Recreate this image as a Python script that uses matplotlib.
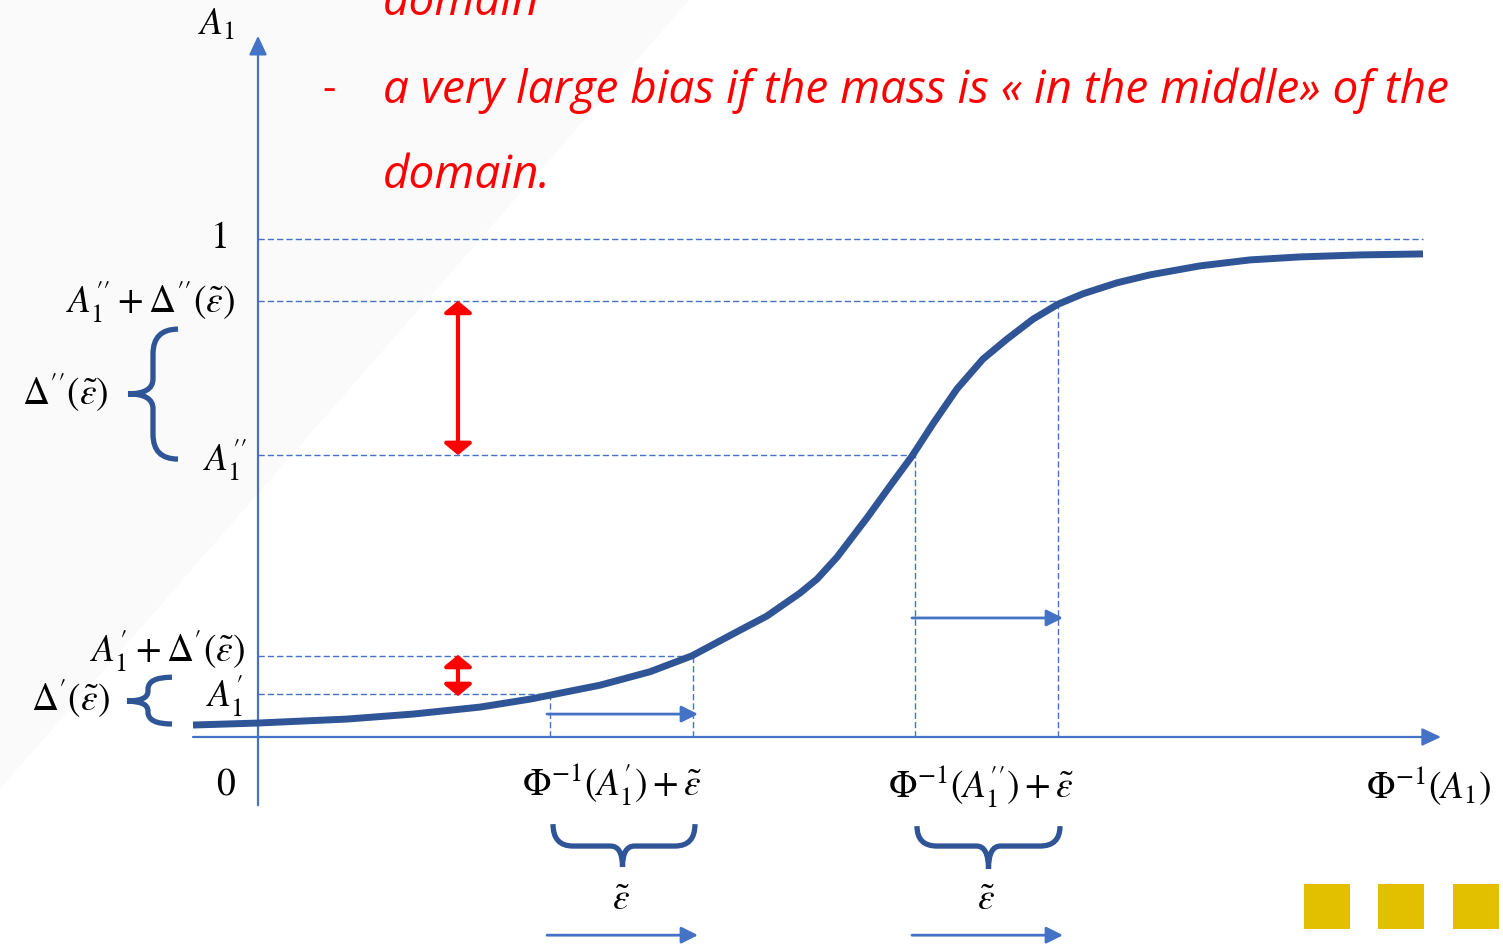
import numpy as np
import matplotlib.pyplot as plt
from matplotlib.path import Path
from matplotlib.patches import PathPatch, Rectangle, Polygon

plt.rcParams['mathtext.fontset'] = 'stix'

AXIS_BLUE = '#4472C4'
CURVE_BLUE = '#2F5597'
RED = '#FF0000'

# S-shaped mapping A1 = Phi(x)
curve_x = [-0.65, 0.00, 0.89, 1.55, 2.22, 2.72, 2.92, 3.42, 3.92, 4.34, 4.75,
           5.09, 5.42, 5.59, 5.79, 6.09, 6.32, 6.54, 6.75, 6.99, 7.25, 7.49,
           7.75, 8.00, 8.25, 8.59, 8.92, 9.42, 9.92, 10.42, 11.02, 11.65]
curve_y = [0.024, 0.028, 0.036, 0.046, 0.060, 0.076, 0.084, 0.104, 0.131, 0.163, 0.207,
           0.243, 0.289, 0.317, 0.361, 0.440, 0.504, 0.564, 0.629, 0.699, 0.759, 0.799,
           0.839, 0.869, 0.890, 0.912, 0.928, 0.946, 0.958, 0.964, 0.968, 0.970]

# levels on the A1 axis
a1_lo = 0.086      # A1'
a1_lo_up = 0.163   # A1' + Delta'(eps)
a1_hi = 0.566      # A1''
a1_hi_up = 0.876   # A1'' + Delta''(eps)
a1_top = 1.0

# positions on the Phi^-1 axis and the shift eps
x_lo = 2.92
x_hi = 6.57
eps = 1.43

fig = plt.figure(figsize=(15.03, 9.45), dpi=100)
ax = fig.add_axes([0, 0, 1, 1])
ax.set_xlim(-2.58, 12.45)
ax.set_ylim(-0.4157, 1.4819)
ax.axis('off')

# faint background wedge
ax.add_patch(Polygon([(-2.58, 1.4819), (4.32, 1.4819), (-2.58, -0.104)],
                     closed=True, facecolor='#FAFAFA', edgecolor='none', zorder=0))

dash = dict(color=AXIS_BLUE, lw=1.0, linestyle=(0, (4.5, 2.2)), zorder=2)
# horizontal guides from the A1 axis to the curve
for lev, xe in [(a1_lo, x_lo), (a1_lo_up, x_lo + eps), (a1_hi, x_hi),
                (a1_hi_up, x_hi + eps), (a1_top, curve_x[-1])]:
    ax.plot([0, xe], [lev, lev], **dash)
# vertical guides from the curve down to the x axis
for xv, lev in [(x_lo, a1_lo), (x_lo + eps, a1_lo_up), (x_hi, a1_hi), (x_hi + eps, a1_hi_up)]:
    ax.plot([xv, xv], [0, lev], **dash)

# axes with arrow heads
axis_arrow = dict(arrowstyle='-|>,head_length=1.15,head_width=0.54', mutation_scale=10,
                  color=AXIS_BLUE, lw=1.6, shrinkA=0, shrinkB=0)
ax.annotate('', xy=(0, 1.408), xytext=(0, -0.137), arrowprops=axis_arrow, zorder=3)
ax.annotate('', xy=(11.83, 0), xytext=(-0.65, 0), arrowprops=axis_arrow, zorder=3)

# the curve
ax.plot(curve_x, curve_y, color=CURVE_BLUE, lw=5.0, solid_capstyle='butt',
        solid_joinstyle='round', zorder=4)

# shift arrows of length eps
shift = dict(arrowstyle='-|>,head_length=1.0,head_width=0.5', mutation_scale=10,
             color=AXIS_BLUE, lw=2.0, shrinkA=0, shrinkB=0)
for x0, yy in [(x_lo, 0.046), (x_hi, 0.239), (x_lo, -0.398), (x_hi, -0.398)]:
    ax.annotate('', xy=(x0 + eps + 0.05, yy), xytext=(x0 - 0.03, yy), arrowprops=shift, zorder=3)

# red double arrows for the vertical gaps
gap = dict(arrowstyle='<|-|>,head_length=0.7,head_width=0.85', mutation_scale=10,
           color=RED, lw=3.0, shrinkA=0, shrinkB=0)
ax.annotate('', xy=(2.0, a1_hi_up), xytext=(2.0, a1_hi), arrowprops=gap, zorder=5)
ax.annotate('', xy=(2.0, a1_lo_up + 0.002), xytext=(2.0, a1_lo - 0.004), arrowprops=gap, zorder=5)


def left_brace(x_end, x_mid, x_tip, y_top, y_tip, y_bot, r, r2):
    verts = [(x_end, y_top), (x_mid, y_top), (x_mid, y_top - r),
             (x_mid, y_tip + r2),
             (x_mid, y_tip), (x_tip, y_tip),
             (x_mid, y_tip), (x_mid, y_tip - r2),
             (x_mid, y_bot + r),
             (x_mid, y_bot), (x_end, y_bot)]
    codes = [Path.MOVETO, Path.CURVE3, Path.CURVE3, Path.LINETO,
             Path.CURVE3, Path.CURVE3, Path.CURVE3, Path.CURVE3,
             Path.LINETO, Path.CURVE3, Path.CURVE3]
    ax.add_patch(PathPatch(Path(verts, codes), fill=False, edgecolor=CURVE_BLUE,
                           lw=3.8, capstyle='butt', zorder=4))


def bottom_brace(x_left, x_tip, x_right, y_end, y_mid, y_tip, r, r2):
    verts = [(x_left, y_end), (x_left, y_mid), (x_left + r, y_mid),
             (x_tip - r2, y_mid),
             (x_tip, y_mid), (x_tip, y_tip),
             (x_tip, y_mid), (x_tip + r2, y_mid),
             (x_right - r, y_mid),
             (x_right, y_mid), (x_right, y_end)]
    codes = [Path.MOVETO, Path.CURVE3, Path.CURVE3, Path.LINETO,
             Path.CURVE3, Path.CURVE3, Path.CURVE3, Path.CURVE3,
             Path.LINETO, Path.CURVE3, Path.CURVE3]
    ax.add_patch(PathPatch(Path(verts, codes), fill=False, edgecolor=CURVE_BLUE,
                           lw=3.8, capstyle='butt', zorder=4))


left_brace(-0.80, -1.05, -1.30, 0.819, 0.689, 0.558, 0.050, 0.030)
left_brace(-0.86, -1.10, -1.31, 0.120, 0.072, 0.026, 0.024, 0.020)
bottom_brace(x_lo + 0.03, x_lo + eps / 2 + 0.01, x_lo + eps + 0.02, -0.175, -0.219, -0.261, 0.20, 0.12)
bottom_brace(x_hi + 0.02, x_hi + eps / 2 + 0.02, x_hi + eps + 0.02, -0.179, -0.219, -0.265, 0.20, 0.12)

# math labels
fs = 27
lab = dict(fontsize=fs, color='black', va='center', zorder=6)
ax.text(-0.41, 1.432, r'$A_1$', ha='center', **lab)
ax.text(-0.31, 1.004, r'$1$', ha='right', **lab)
ax.text(-0.23, 0.876, r"$A_1''+\Delta''(\tilde{\varepsilon})$", ha='right', **lab)
ax.text(-1.50, 0.695, r"$\Delta''(\tilde{\varepsilon})$", ha='right', **lab)
ax.text(-0.11, 0.558, r"$A_1''$", ha='right', **lab)
ax.text(-0.13, 0.176, r"$A_1'+\Delta'(\tilde{\varepsilon})$", ha='right', **lab)
ax.text(-1.48, 0.080, r"$\Delta'(\tilde{\varepsilon})$", ha='right', **lab)
ax.text(-0.15, 0.086, r"$A_1'$", ha='right', **lab)
ax.text(-0.22, -0.094, r'$0$', ha='right', **lab)
ax.text(x_lo + eps / 2 - 0.1, -0.094, r"$\Phi^{-1}(A_1')+\tilde{\varepsilon}$", ha='center', **lab)
ax.text(x_hi + eps / 2 - 0.05, -0.098, r"$\Phi^{-1}(A_1'')+\tilde{\varepsilon}$", ha='center', **lab)
ax.text(11.70, -0.098, r'$\Phi^{-1}(A_1)$', ha='center', **lab)
ax.text(x_lo + eps / 2, -0.325, r'$\tilde{\varepsilon}$', ha='center', **lab)
ax.text(x_hi + eps / 2, -0.325, r'$\tilde{\varepsilon}$', ha='center', **lab)

# red handwritten-style note
note = dict(color=RED, fontsize=33, family='Open Sans', style='italic', va='baseline', zorder=6)
ax.text(1.25, 1.452, 'domain', **note)
ax.text(0.71, 1.301, '-', color=RED, fontsize=30, family='Open Sans', ha='center', va='center')
ax.text(1.25, 1.275, 'a very large bias if the mass is « in the middle» of the', **note)
ax.text(1.25, 1.104, 'domain.', **note)

# slide footer squares
for x0 in [10.46, 11.20, 11.95]:
    ax.add_patch(Rectangle((x0, -0.386), 0.46, 0.090, facecolor='#E2C000',
                           edgecolor='none', zorder=6))

fig.savefig('out.png', dpi=100)
